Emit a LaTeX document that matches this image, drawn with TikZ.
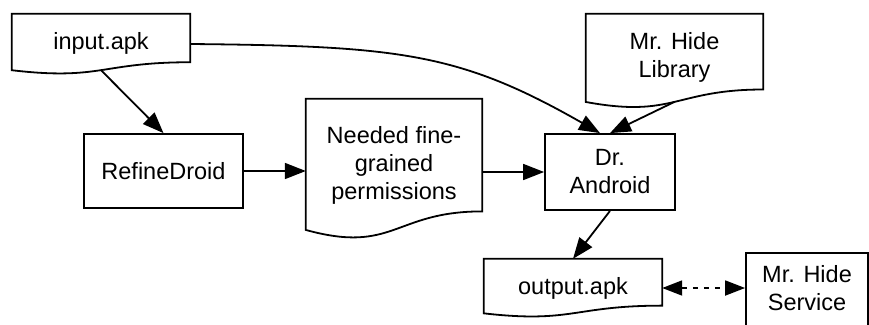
\documentclass[tikz,border=0pt]{standalone}
\usepackage{fontspec}
\setmainfont{Liberation Sans}
\usetikzlibrary{arrows.meta,calc}
\tikzset{
  lbl/.style={font=\fontsize{23.5}{28}\selectfont, align=center, inner sep=0pt},
  boxnode/.style={lbl, draw, line width=1.8pt},
  docgeo/.style={inner sep=0pt, draw=none},
  outline/.style={line width=1.8pt, line join=miter},
  arr/.style={line width=1.8pt, -{Triangle[length=21pt,width=16pt]}},
  darr/.style={line width=1.8pt, dash pattern=on 5pt off 6pt, {Triangle[length=20pt,width=15pt]}-{Triangle[length=20pt,width=15pt]}},
}
\newcommand\docoutline[1]{%
  \draw[outline] (#1.north west) -- (#1.north east)
    -- ($(#1.north east)!0.802!(#1.south east)$)
    .. controls ($(#1.north)!0.802!(#1.south)$) and ($(#1.north)!1.1075!(#1.south)$)
    .. ($(#1.north west)!0.934!(#1.south west)$) -- cycle;}
\begin{document}
\begin{tikzpicture}[x=1pt,y=-1pt]
\useasboundingbox (0,0) rectangle (869,324);
\clip (0,0) rectangle (869,324);
% document shapes (geometry)
\node[docgeo, minimum width=178pt, minimum height=60pt] (input) at (101,44) {};
\node[docgeo, minimum width=176pt, minimum height=140pt] (needed) at (394,169) {};
\node[docgeo, minimum width=177pt, minimum height=94pt] (library) at (674.5,61) {};
\node[docgeo, minimum width=178pt, minimum height=58pt] (output) at (573,288) {};
\docoutline{input}
\docoutline{needed}
\docoutline{library}
\docoutline{output}
% texts of documents
\node[lbl, yshift=1pt] (inputtxt) at (input) {input.apk};
\node[lbl, yshift=4pt] (neededtxt) at (needed) {Needed fine-\\grained\\permissions};
\node[lbl, yshift=3.5pt] (librarytxt) at (library) {Mr. Hide\\Library};
\node[lbl] (outputtxt) at (output) {output.apk};
% process boxes
\node[boxnode, minimum width=159pt, minimum height=74pt] (refine) at (163.5,171) {RefineDroid};
\node[boxnode, minimum width=130pt, minimum height=76pt] (dr) at (610,172) {Dr.\\Android};
\node[boxnode, minimum width=122pt, minimum height=78pt] (service) at (807,292) {};
\node[lbl] (servicetxt) at (807,288) {Mr. Hide\\Service};
% connectors
\draw[arr] ($(input.north)!0.933!(input.south)$) -- (refine.north);
\draw[arr] (input.east) .. controls ($(input.east)+(210,2)$) and ($(dr.north)+(-150,-80)$) .. ([xshift=-10pt]dr.north);
\draw[arr] ($(library.north)!0.933!(library.south)$) -- (dr.north);
\draw[arr] (refine.east) -- (refine.east -| needed.west);
\draw[arr] (dr.west -| needed.east) -- (dr.west);
\draw[arr] (dr.south) -- (output.north);
\draw[darr] (servicetxt.center -| output.east) -- (servicetxt.center -| service.west);
\end{tikzpicture}
\end{document}
